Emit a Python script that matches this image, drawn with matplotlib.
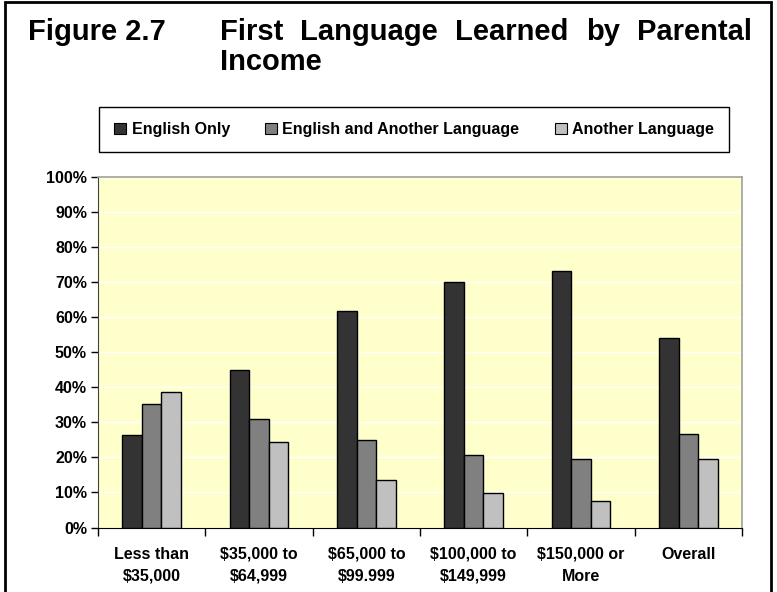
import numpy as np
import matplotlib
matplotlib.use("Agg")
import matplotlib.pyplot as plt
from matplotlib.patches import Rectangle, Patch
from matplotlib.ticker import MultipleLocator, PercentFormatter

# data (percent)
categories = ["Less than\n$35,000", "$35,000 to\n$64,999", "$65,000 to\n$99.999",
              "$100,000 to\n$149,999", "$150,000 or\nMore", "Overall"]
series_names = ["English Only", "English and Another Language", "Another Language"]
english_only = [26.4, 45.0, 61.8, 70.0, 73.2, 54.1]
english_and_other = [35.3, 30.9, 25.0, 20.6, 19.6, 26.6]
another_language = [38.6, 24.4, 13.5, 9.8, 7.5, 19.6]

colors = ["#333333", "#808080", "#C0C0C0"]

plt.rcParams["font.family"] = ["Liberation Sans", "DejaVu Sans"]
plt.rcParams["font.weight"] = "bold"

fig = plt.figure(figsize=(7.77, 5.92), dpi=100)
ax = fig.add_axes([98 / 777, 1 - 527.5 / 592, 644 / 777, 350.5 / 592])

x = np.arange(len(categories))
width = 0.183
for i, (vals, col, name) in enumerate(zip([english_only, english_and_other, another_language],
                                          colors, series_names)):
    ax.bar(x + (i - 1) * width, vals, width, color=col, edgecolor="black",
           linewidth=1.0, label=name, zorder=3)

ax.set_facecolor("#FFFFCC")
ax.set_xlim(-0.5, len(categories) - 0.5)
ax.set_ylim(0, 100)
ax.yaxis.set_major_locator(MultipleLocator(10))
ax.yaxis.set_major_formatter(PercentFormatter(decimals=0))
ax.grid(axis="y", color="white", linewidth=1.0, zorder=1)
ax.set_axisbelow(True)

# category boundaries carry the ticks, labels sit at the centres
ax.set_xticks(np.arange(-0.5, len(categories), 1.0))
ax.set_xticklabels([])
ax.set_xticks(x, minor=True)
ax.set_xticklabels(categories, minor=True, fontsize=11.5, fontweight="bold",
                   linespacing=1.55)
ax.tick_params(axis="x", which="major", direction="out", length=6, width=1, color="black")
ax.tick_params(axis="x", which="minor", length=0, pad=14)
ax.tick_params(axis="y", direction="out", length=5, width=1, labelsize=11.5, pad=3)
for lab in ax.get_yticklabels():
    lab.set_fontweight("bold")

for side in ["top", "right"]:
    ax.spines[side].set_color("#A0A0A0")
    ax.spines[side].set_linewidth(1.2)
ax.spines["left"].set_color("#404040")
ax.spines["bottom"].set_color("black")

# legend
handles = [Patch(facecolor=c, edgecolor="black", linewidth=0.8) for c in colors]
leg = fig.legend(handles, series_names, loc="center", ncol=3,
                 bbox_to_anchor=(414 / 777, 1 - 129.5 / 592),
                 prop={"size": 11.5, "weight": "bold"},
                 handlelength=0.75, handleheight=0.75, handletextpad=0.35,
                 columnspacing=2.2, borderpad=0.95, fancybox=False,
                 edgecolor="black", framealpha=1)
leg.get_frame().set_linewidth(1.0)
leg.set_bbox_to_anchor((100 / 777, 1 - 151 / 592, 628 / 777, 43 / 592), transform=fig.transFigure)
leg._loc = 10

# title
fig.text(28 / 777, 1 - 40 / 592, "Figure 2.7", fontsize=21, fontweight="bold", va="baseline")
words = ["First", "Language", "Learned", "by", "Parental"]
fig.canvas.draw()
renderer = fig.canvas.get_renderer()
word_texts = [fig.text(0, 1 - 40 / 592, w, fontsize=21, fontweight="bold", va="baseline")
              for w in words]
widths = [t.get_window_extent(renderer).width for t in word_texts]
left_px, right_px = 220, 752
gap = (right_px - left_px - sum(widths)) / (len(words) - 1)
pos = left_px
for t, w in zip(word_texts, widths):
    t.set_x(pos / 777)
    pos += w + gap
fig.text(220 / 777, 1 - 70 / 592, "Income", fontsize=21, fontweight="bold", va="baseline")

# outer frame
fig.patches.append(Rectangle((5 / 777, -0.05), 766 / 777, 1.05 - 2 / 592,
                             transform=fig.transFigure, fill=False,
                             edgecolor="black", linewidth=2.0))

fig.savefig("out.png", dpi=100)
